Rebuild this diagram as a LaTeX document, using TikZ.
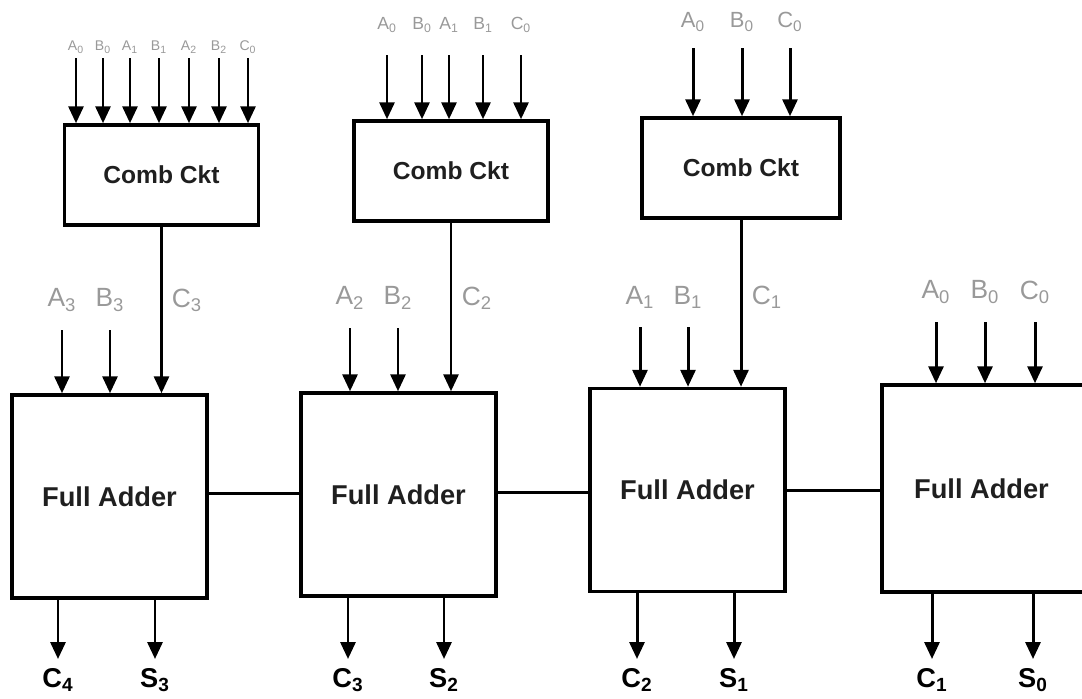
\documentclass[tikz,border=0pt]{standalone}
\usepackage{fontspec}
\setmainfont{Liberation Sans}
\usetikzlibrary{arrows.meta}

\begin{document}
\begin{tikzpicture}[x=0.02cm, y=-0.02cm, >={Triangle[length=3.4mm, width=3mm]},
	sig/.style={->, line width=1.7pt},
	wire/.style={line width=1.7pt},
	fa/.style={draw, line width=2pt, minimum width=3.9cm, minimum height=4.06cm, inner sep=0pt, font=\bfseries\fontsize{15.5}{16}\selectfont, text=black!88},
	comb/.style={draw, line width=2pt, minimum width=3.88cm, minimum height=2cm, inner sep=0pt, font=\bfseries\fontsize{14}{15}\selectfont, text=black!88},
	inlbl/.style={text=black!40, inner sep=1pt, font=\fontsize{15}{16}\selectfont},
	outlbl/.style={inner sep=0.5pt, font=\bfseries\fontsize{15.5}{16}\selectfont}]
	\useasboundingbox (0,0) rectangle (1082,698);
	\clip (0,0) rectangle (1082,698);
	% combinational circuits
	\node[comb] (cc1) at (161.5,175) {Comb Ckt};
	\node[comb] (cc2) at (451,171) {Comb Ckt};
	\node[comb, minimum width=3.96cm] (cc3) at (741,168) {Comb Ckt};
	% full adders
	\node[fa] (fa1) at (109.5,496.5) {Full Adder};
	\node[fa] (fa2) at (398.5,494.5) {Full Adder};
	\node[fa] (fa3) at (687.5,490) {Full Adder};
	\node[fa, minimum width=4.2cm, minimum height=4.14cm] (fa4) at (987,488.5) {\hspace*{-0.22cm}Full Adder};
	% carry chain
	\draw[wire] ([yshift=0.06cm]fa1.east) -- ([yshift=0.06cm]fa1.east -| fa2.west);
	\draw[wire] ([yshift=0.05cm]fa2.east) -- ([yshift=0.05cm]fa2.east -| fa3.west);
	\draw[wire] (fa3.east) -- (fa3.east -| fa4.west);
	% inputs of the comb circuits
	\foreach \x/\t [count=\i] in {76/A\textsubscript{0}, 103/B\textsubscript{0}, 130/A\textsubscript{1}, 159/B\textsubscript{1}, 189/A\textsubscript{2}, 219/B\textsubscript{2}, 248/C\textsubscript{0}}
		{\node[inlbl, font=\fontsize{8}{9}\selectfont] (pa\i) at (\x,47) {\t}; \draw[sig] ([yshift=-0.22cm]pa\i.center) -- (pa\i |- cc1.north);}
	\foreach \x/\t [count=\i] in {387/A\textsubscript{0}, 422/B\textsubscript{0}, 449/A\textsubscript{1}, 483/B\textsubscript{1}, 521/C\textsubscript{0}}
		{\node[inlbl, font=\fontsize{10}{11}\selectfont] (pb\i) at (\x,25) {\t}; \draw[sig] ([yshift=-0.6cm]pb\i.center) -- (pb\i |- cc2.north);}
	\foreach \x/\t [count=\i] in {693/A\textsubscript{0}, 742/B\textsubscript{0}, 790/C\textsubscript{0}}
		{\node[inlbl, font=\fontsize{12.5}{13}\selectfont] (pc\i) at (\x,22) {\t}; \draw[sig] ([yshift=-0.52cm]pc\i.center) -- (pc\i |- cc3.north);}
	% carries from the comb circuits
	\draw[sig] (cc1.south) -- (cc1.south |- fa1.north);
	\draw[sig] (cc2.south) -- (cc2.south |- fa2.north);
	\draw[sig] (cc3.south) -- (cc3.south |- fa3.north);
	\node[inlbl] (c3) at (187,300) {C\textsubscript{3}};
	\node[inlbl] (c2) at (477,298) {C\textsubscript{2}};
	\node[inlbl] (c1) at (767,297) {C\textsubscript{1}};
	% adder inputs
	\foreach \b/\x/\y/\t in {fa1/62/300/A\textsubscript{3}, fa1/110/300/B\textsubscript{3}, fa2/350/298/A\textsubscript{2}, fa2/398/298/B\textsubscript{2}, fa3/640/297/A\textsubscript{1}, fa3/688/297/B\textsubscript{1}, fa4/936/292/A\textsubscript{0}, fa4/985/292/B\textsubscript{0}, fa4/1035/292/C\textsubscript{0}}
		{\node[inlbl] (in\b\x) at (\x,\y) {\t}; \draw[sig] ([yshift=-0.6cm]in\b\x.center) -- (in\b\x |- \b.north);}
	% outputs
	\foreach \b/\x/\t in {fa1/58/C\textsubscript{4}, fa1/155/S\textsubscript{3}, fa2/348/C\textsubscript{3}, fa2/444/S\textsubscript{2}, fa3/637/C\textsubscript{2}, fa3/734/S\textsubscript{1}, fa4/932/C\textsubscript{1}, fa4/1033/S\textsubscript{0}}
		{\node[outlbl] (out\b\x) at (\x,680) {\t}; \draw[sig] (out\b\x |- \b.south) -- ([yshift=0.42cm]out\b\x.center);}
\end{tikzpicture}
\end{document}
